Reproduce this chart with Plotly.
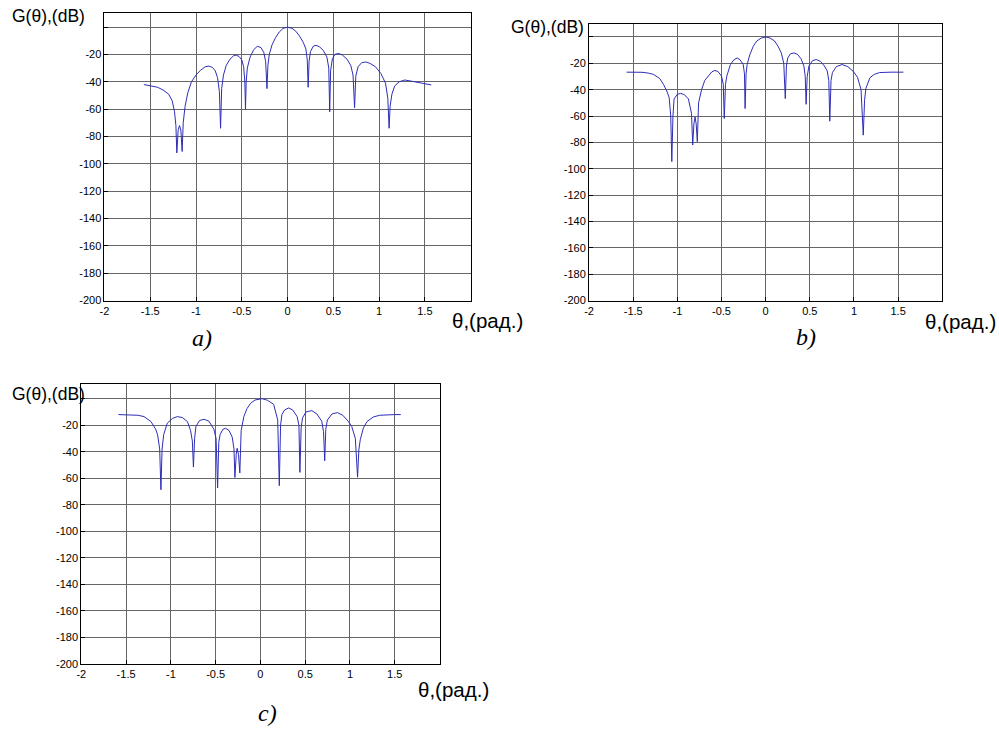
import plotly.graph_objects as go

# ---------------- data ----------------
theta_a = [-1.57, -1.50, -1.42, -1.36, -1.30, -1.26, -1.235, -1.22, -1.21, -1.195, -1.18, -1.165, -1.152,
           -1.14, -1.12, -1.09, -1.05, -1.00, -0.95, -0.90, -0.86, -0.82, -0.79, -0.765, -0.745, -0.732,
           -0.72, -0.70, -0.67, -0.63, -0.59, -0.56, -0.53, -0.50, -0.48, -0.467, -0.46, -0.452, -0.44,
           -0.41, -0.37, -0.33, -0.29, -0.26, -0.24, -0.225, -0.215, -0.20, -0.17, -0.13, -0.09, -0.05,
           0.0, 0.05, 0.09, 0.13, 0.17, 0.20, 0.215, 0.225, 0.235, 0.25, 0.28, 0.31, 0.35, 0.39, 0.43,
           0.45, 0.46, 0.47, 0.49, 0.52, 0.56, 0.60, 0.65, 0.69, 0.715, 0.732, 0.745, 0.77, 0.81, 0.855,
           0.90, 0.96, 1.02, 1.07, 1.095, 1.109, 1.12, 1.14, 1.17, 1.22, 1.28, 1.35, 1.45, 1.52, 1.57]
gain_a = [-42, -42.8, -44, -46, -49, -54, -62, -72, -92, -75, -72, -76, -91,
          -70, -58, -48, -40, -35, -31.5, -29, -28.5, -29.5, -32, -37, -47, -74,
          -45, -35, -28, -23.5, -21, -20.5, -21.5, -24, -29, -40, -60, -40, -30,
          -22, -16.5, -14, -15, -18.5, -25, -45, -28, -20, -13, -7.5, -3.5, -1,
          0, -1, -3, -6.5, -11, -16, -24, -44, -25, -18, -14, -13.3, -14.5, -17, -22,
          -30, -62, -32, -23, -19.8, -19.3, -20.5, -23.5, -28, -35, -59, -36, -29, -26, -25.5,
          -26.5, -29, -34, -41, -52, -74, -58, -49, -43, -40, -38.7, -39.5, -41, -42, -42.3]

theta_b = [-1.575, -1.50, -1.40, -1.33, -1.27, -1.20, -1.157, -1.12, -1.093, -1.075, -1.063, -1.05,
           -1.037, -1.00, -0.962, -0.92, -0.89, -0.875, -0.84, -0.826, -0.813, -0.80, -0.787, -0.774,
           -0.76, -0.725, -0.69, -0.65, -0.61, -0.575, -0.54, -0.50, -0.48, -0.469, -0.455, -0.44,
           -0.40, -0.36, -0.323, -0.29, -0.254, -0.24, -0.233, -0.222, -0.21, -0.18, -0.14, -0.10,
           -0.05, 0.004, 0.05, 0.10, 0.14, 0.177, 0.205, 0.222, 0.235, 0.25, 0.28, 0.32, 0.36, 0.40,
           0.433, 0.448, 0.458, 0.47, 0.49, 0.53, 0.572, 0.62, 0.665, 0.697, 0.715, 0.726, 0.74,
           0.756, 0.80, 0.865, 0.93, 0.99, 1.04, 1.08, 1.105, 1.12, 1.135, 1.18, 1.229, 1.29,
           1.342, 1.42, 1.50, 1.56]
gain_b = [-26.7, -26.7, -26.8, -27.4, -28.4, -31.5, -36, -41, -46, -60, -94.6, -60,
          -47, -43.5, -42.8, -43.8, -46, -47, -58, -82, -66, -60.7, -66, -79.5,
          -50, -39.8, -33, -29.7, -26.5, -25.4, -26.2, -29.7, -36, -61.9, -36, -29.7,
          -21, -17.3, -15.9, -17.3, -21, -28, -54.3, -28, -21, -13.5, -7, -3,
          -0.8, 0, -0.8, -3, -7, -12.1, -20, -46.8, -22, -15.9, -12.8, -12.1, -13.2, -16.5,
          -22, -30, -51.1, -30, -22, -18, -17.1, -18.5, -22, -25.8, -33, -63.9, -33,
          -27, -22.5, -20.9, -22.5, -26, -30.5, -40, -74.5, -48, -39, -31, -28.4, -27,
          -26.7, -26.7, -26.7, -26.7]

theta_c = [-1.585, -1.50, -1.42, -1.37, -1.30, -1.222, -1.17, -1.148, -1.125, -1.111, -1.098, -1.08,
           -1.04, -0.98, -0.926, -0.87, -0.815, -0.78, -0.76, -0.748, -0.735, -0.72, -0.68, -0.63,
           -0.575, -0.52, -0.495, -0.478, -0.465, -0.45, -0.42, -0.389, -0.35, -0.315, -0.295,
           -0.285, -0.27, -0.26, -0.245, -0.23, -0.215, -0.185, -0.15, -0.11, -0.06, 0.019,
           0.08, 0.148, 0.193, 0.211, 0.225, 0.24, 0.27, 0.315, 0.36, 0.41, 0.43, 0.441, 0.455,
           0.47, 0.51, 0.574, 0.63, 0.685, 0.705, 0.718, 0.73, 0.748, 0.80, 0.859, 0.92, 0.98,
           1.02, 1.06, 1.085, 1.10, 1.115, 1.15, 1.19, 1.26, 1.333, 1.42, 1.50, 1.567]
gain_c = [-12, -12.1, -12.3, -12.5, -13.5, -17.3, -23, -27.3, -38, -68.7, -38, -27,
          -18.5, -14.8, -13.5, -14.3, -17.3, -24, -32, -51.6, -30, -21, -16.5, -15.5,
          -17, -23, -30, -67.4, -33, -27, -23.2, -22.3, -24, -29, -38,
          -59.4, -42, -37.4, -42, -56, -24, -13.5, -7.5, -3.5, -1, 0,
          -1.2, -4.3, -16, -65.6, -20, -12, -8.5, -7, -8.5, -13.5, -20, -55.6, -22,
          -14.5, -10, -9, -11.5, -17, -25, -46.8, -23, -16, -11.5, -10.5, -12.5, -17,
          -21, -30, -59.2, -38, -31, -22, -17.3, -13.8, -12.5, -12.1, -12, -12]

x_tick_vals = [-2, -1.5, -1, -0.5, 0, 0.5, 1, 1.5, 2]
x_tick_text = ["-2", "-1.5", "-1", "-0.5", "0", "0.5", "1", "1.5", ""]
y_tick_vals = [-200, -180, -160, -140, -120, -100, -80, -60, -40, -20, 0]
y_tick_text = ["-200", "-180", "-160", "-140", "-120", "-100", "-80", "-60", "-40", "-20", ""]

y_label = "G(θ),(dB)"
x_label = "θ,(рад.)"
panel_tags = ["a)", "b)", "c)"]

# ---------------- figure ----------------
W, H = 999, 733
line_col = "#2d2db8"
grid_col = "#666666"
tick_font = dict(family="Liberation Sans, Arial, sans-serif", size=11, color="#000000")

fig = go.Figure()
fig.add_trace(go.Scatter(x=theta_a, y=gain_a, mode="lines", line=dict(color=line_col, width=1),
                         xaxis="x", yaxis="y", showlegend=False, hoverinfo="skip"))
fig.add_trace(go.Scatter(x=theta_b, y=gain_b, mode="lines", line=dict(color=line_col, width=1),
                         xaxis="x2", yaxis="y2", showlegend=False, hoverinfo="skip"))
fig.add_trace(go.Scatter(x=theta_c, y=gain_c, mode="lines", line=dict(color=line_col, width=1),
                         xaxis="x3", yaxis="y3", showlegend=False, hoverinfo="skip"))

def px_x(p):
    return p / W

def px_y(p):
    return 1 - p / H

panels = [
    # (x0, x1, ytop, ybottom, ymax)
    (100, 468, 13, 303, 10.4),
    (587, 942, 24, 303, 10.0),
    (76.7, 436.7, 387, 669.3, 11.2),
]

layout = dict(width=W, height=H, margin=dict(l=0, r=0, t=0, b=0),
              paper_bgcolor="white", plot_bgcolor="white", showlegend=False)

for i, (x0, x1, yt, yb, ymax) in enumerate(panels):
    sfx = "" if i == 0 else str(i + 1)
    anchor_x = "y" + sfx
    anchor_y = "x" + sfx
    layout["xaxis" + sfx] = dict(domain=[px_x(x0), px_x(x1)], range=[-2, 2], anchor=anchor_x,
                                 tickvals=x_tick_vals, ticktext=x_tick_text,
                                 showgrid=True, gridcolor=grid_col, gridwidth=1,
                                 showline=True, linecolor="black", linewidth=1, mirror=True,
                                 ticks="inside", ticklen=4, tickcolor="black",
                                 tickfont=tick_font, zeroline=False, fixedrange=True)
    layout["yaxis" + sfx] = dict(domain=[px_y(yb), px_y(yt)], range=[-200, ymax], anchor=anchor_y,
                                 tickvals=y_tick_vals, ticktext=y_tick_text,
                                 showgrid=True, gridcolor=grid_col, gridwidth=1,
                                 showline=True, linecolor="black", linewidth=1, mirror=True,
                                 ticks="inside", ticklen=4, tickcolor="black",
                                 tickfont=tick_font, zeroline=False, fixedrange=True)

fig.update_layout(**layout)

ylab_font = dict(family="Liberation Sans, Arial, sans-serif", size=17.5, color="#000000")
xlab_font = dict(family="Liberation Sans, Arial, sans-serif", size=20.5, color="#000000")
tag_font = dict(family="Liberation Serif, Times New Roman, serif", size=24, color="#000000")

ylab_pos = [(5, 16), (507, 27), (5, 397)]
xlab_pos = [(447, 323), (923, 324), (413, 695)]
tag_pos = [(198, 341), (805, 340), (264, 719)]

for (xp, yp) in ylab_pos:
    fig.add_annotation(x=px_x(xp), y=px_y(yp), xref="paper", yref="paper", text=y_label,
                       showarrow=False, xanchor="left", yanchor="middle", font=ylab_font)
for (xp, yp) in xlab_pos:
    fig.add_annotation(x=px_x(xp), y=px_y(yp), xref="paper", yref="paper", text=x_label,
                       showarrow=False, xanchor="left", yanchor="middle", font=xlab_font)
for (xp, yp), t in zip(tag_pos, panel_tags):
    fig.add_annotation(x=px_x(xp), y=px_y(yp), xref="paper", yref="paper", text="<i>" + t + "</i>",
                       showarrow=False, xanchor="center", yanchor="middle", font=tag_font)

fig.write_html("out.html", config={"displayModeBar": False, "staticPlot": True},
               post_script="document.body.style.margin='0';document.body.style.overflow='hidden';")
